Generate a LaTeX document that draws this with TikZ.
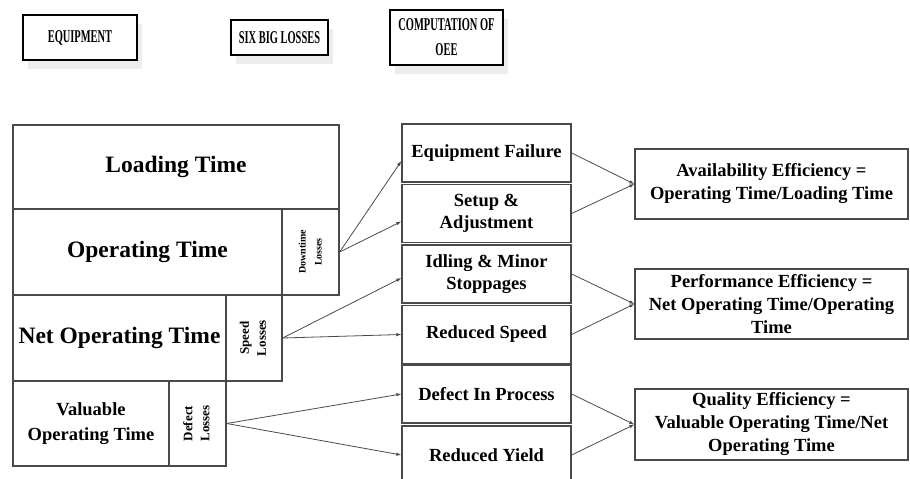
\documentclass[tikz,border=0pt]{standalone}
\usepackage{fontspec}
\setmainfont{Liberation Serif}
\usetikzlibrary{arrows.meta,shadows}
\definecolor{linea}{HTML}{4A4A4A}
\definecolor{sombra}{HTML}{DCDCDC}
\newcommand{\apretar}[1]{\scalebox{0.58}[1]{#1}}
\tikzset{
  header/.style={draw=black,line width=1.2pt,fill=white,align=center,inner sep=0pt,
    font=\fontsize{18}{25}\selectfont\bfseries,
    drop shadow={shadow xshift=5pt,shadow yshift=-9pt,fill=sombra,draw=none}},
  timebox/.style={draw=linea,line width=1.3pt,align=center,inner sep=1pt,
    font=\fontsize{23.5}{28}\selectfont\bfseries},
  smalltime/.style={timebox,font=\fontsize{18.5}{25}\selectfont\bfseries},
  lossbox/.style={draw=linea,line width=1.3pt,inner sep=0pt,
    font=\fontsize{13}{17}\selectfont\bfseries},
  bigloss/.style={draw=linea,line width=1.3pt,align=center,inner sep=1pt,
    minimum width=169pt,minimum height=58pt,
    font=\fontsize{18.5}{22.5}\selectfont\bfseries},
  oee/.style={draw=linea,line width=1.3pt,align=center,inner sep=1pt,
    minimum width=273pt,minimum height=70pt,
    font=\fontsize{18.5}{23}\selectfont\bfseries},
  arrow/.style={-{Latex[length=5pt,width=3.5pt]},draw=linea,line width=.8pt}
}
\begin{document}
\begin{tikzpicture}[x=1pt,y=-1pt]
\useasboundingbox (0,0) rectangle (910,479);

% column headers
\node[header,minimum width=114pt,minimum height=45pt] (hequip) at (80,37.5) {\apretar{EQUIPMENT}};
\node[header,minimum width=97pt,minimum height=35pt] (hloss) at (279.5,37.5) {\apretar{SIX BIG LOSSES}};
\node[header,minimum width=113pt,minimum height=55pt] (hoee) at (446.5,37.5) {\apretar{COMPUTATION OF}\\\apretar{OEE}};

% equipment time blocks
\node[timebox,minimum width=326pt,minimum height=84pt] (load) at (176,167) {Loading Time};
\node[timebox,minimum width=269pt,minimum height=86pt] (oper) at (147.5,252) {Operating Time};
\node[lossbox,minimum width=57pt,minimum height=86pt,font=\fontsize{10}{16}\selectfont\bfseries] (downl) at (310.5,252)
  {\rotatebox{90}{\begin{tabular}{@{}c@{}}Downtime\\Losses\end{tabular}}};
\node[timebox,minimum width=213pt,minimum height=86pt] (netop) at (119.5,338) {Net Operating Time};
\node[lossbox,minimum width=56pt,minimum height=86pt] (speedl) at (254,338)
  {\rotatebox{90}{\begin{tabular}{@{}c@{}}Speed\\Losses\end{tabular}}};
\node[smalltime,minimum width=156pt,minimum height=85pt] (valop) at (91,423.5) {Valuable\\Operating Time};
\node[lossbox,minimum width=57pt,minimum height=85pt] (defl) at (197.5,423.5)
  {\rotatebox{90}{\begin{tabular}{@{}c@{}}Defect\\Losses\end{tabular}}};

% six big losses
\node[bigloss] (fail) at (486.5,153) {Equipment Failure};
\node[bigloss] (setup) at (486.5,213.5) {Setup \&\\Adjustment};
\node[bigloss] (idle) at (486.5,274) {Idling \& Minor\\Stoppages};
\node[bigloss] (rspeed) at (486.5,334.5) {Reduced Speed};
\node[bigloss] (dproc) at (486.5,394) {Defect In Process};
\node[bigloss] (ryield) at (486.5,455) {Reduced Yield};

% OEE computation
\node[oee] (avail) at (771.5,184) {Availability Efficiency =\\Operating Time/Loading Time};
\node[oee] (perf) at (771.5,304) {Performance Efficiency =\\Net Operating Time/Operating\\Time};
\node[oee,minimum height=71pt] (qual) at (771.5,424.5) {Quality Efficiency =\\Valuable Operating Time/Net\\Operating Time};

\draw[arrow] (downl.east)--([yshift=-8pt]fail.west);
\draw[arrow] (downl.east)--([yshift=-8pt]setup.west);
\draw[arrow] (speedl.east)--([yshift=-4pt]idle.west);
\draw[arrow] (speedl.east)--(rspeed.west);
\draw[arrow] (defl.east)--(dproc.west);
\draw[arrow] (defl.east)--(ryield.west);
\draw[arrow] (fail.east)--(avail.west);
\draw[arrow] (setup.east)--(avail.west);
\draw[arrow] (idle.east)--(perf.west);
\draw[arrow] (rspeed.east)--(perf.west);
\draw[arrow] (dproc.east)--(qual.west);
\draw[arrow] (ryield.east)--(qual.west);
\end{tikzpicture}
\end{document}
